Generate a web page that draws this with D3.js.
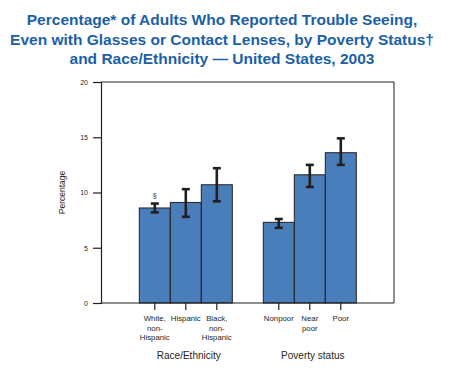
<!DOCTYPE html>
<html>
<head>
<meta charset="utf-8">
<script src="https://cdn.jsdelivr.net/npm/d3@7"></script>
<style>
  html, body { margin: 0; padding: 0; background: #fff; }
  svg { display: block; font-family: "Liberation Sans", Arial, Helvetica, sans-serif; }
</style>
</head>
<body>
<svg id="chart" width="458" height="368"></svg>
<script>
// ---- Data ----
const categories = ["White, non-Hispanic", "Hispanic", "Black, non-Hispanic", "Nonpoor", "Near poor", "Poor"];
const categoryLabels = [["White,", "non-", "Hispanic"], ["Hispanic"], ["Black,", "non-", "Hispanic"], ["Nonpoor"], ["Near", "poor"], ["Poor"]];
const groups = ["Race/Ethnicity", "Poverty status"];
const categoryGroup = [0, 0, 0, 1, 1, 1];
const values = [8.6, 9.1, 10.7, 7.3, 11.6, 13.6];
const ciLower = [8.2, 7.8, 9.2, 6.8, 10.5, 12.5];
const ciUpper = [9.0, 10.3, 12.2, 7.6, 12.5, 14.9];
const yTicks = [0, 5, 10, 15, 20];
const footnoteMarks = ["§", "", "", "", "", ""];
const titleLines = [
  "Percentage* of Adults Who Reported Trouble Seeing,",
  "Even with Glasses or Contact Lenses, by Poverty Status\u2020",
  "and Race/Ethnicity \u2014 United States, 2003"
];

// ---- Layout ----
const svg = d3.select("#chart");
const frame = { left: 101, right: 394, top: 82, bottom: 303 };
const titleColor = "#1b5fa9";
const barColor = "#4a7ebb";
const ink = "#231f20";

// title
svg.append("g").selectAll("text").data(titleLines).join("text")
  .attr("x", 222).attr("y", (d, i) => 25 + i * 19.5)
  .attr("text-anchor", "middle")
  .attr("font-size", 15.5).attr("font-weight", "bold")
  .attr("fill", titleColor)
  .text(d => d);

// scales
const slots = [categories[0], categories[1], categories[2], "__gap__", categories[3], categories[4], categories[5]];
const x = d3.scaleBand().domain(slots).range([139.3, 356.3]).padding(0);
const y = d3.scaleLinear().domain([0, 20]).range([frame.bottom, frame.top]);

// frame (top and right)
svg.append("path")
  .attr("d", `M${frame.left},${frame.top}H${frame.right}V${frame.bottom}`)
  .attr("fill", "none").attr("stroke", ink).attr("stroke-width", 1);

// y axis
const yAxis = svg.append("g").attr("transform", `translate(${frame.left},0)`)
  .call(d3.axisLeft(y).tickValues(yTicks).tickSize(8).tickPadding(5));
yAxis.select(".domain").attr("stroke", ink).attr("stroke-width", 1.2);
yAxis.selectAll(".tick line").attr("stroke", ink).attr("stroke-width", 1.2);
yAxis.selectAll(".tick text").attr("font-size", 7).attr("fill", ink)
  .attr("font-family", "'Liberation Sans', Arial, sans-serif");

// y label
svg.append("text")
  .attr("transform", `translate(65,${(frame.top + frame.bottom) / 2}) rotate(-90)`)
  .attr("text-anchor", "middle").attr("font-size", 8.5).attr("fill", ink)
  .text("Percentage");

// bars
svg.append("g").selectAll("rect").data(categories).join("rect")
  .attr("x", d => x(d)).attr("width", x.bandwidth())
  .attr("y", (d, i) => y(values[i]))
  .attr("height", (d, i) => y(0) - y(values[i]))
  .attr("fill", barColor).attr("stroke", ink).attr("stroke-width", 1);

// x axis baseline
svg.append("line")
  .attr("x1", frame.left).attr("x2", frame.right)
  .attr("y1", frame.bottom).attr("y2", frame.bottom)
  .attr("stroke", ink).attr("stroke-width", 1.2);

// x ticks
const cx = d => x(d) + x.bandwidth() / 2;
svg.append("g").selectAll("line").data(categories).join("line")
  .attr("x1", cx).attr("x2", cx)
  .attr("y1", frame.bottom).attr("y2", frame.bottom + 7)
  .attr("stroke", ink).attr("stroke-width", 1.2);

// error bars
const eb = svg.append("g").attr("stroke", ink).attr("stroke-width", 2.6).attr("fill", "none");
categories.forEach((c, i) => {
  const xc = cx(c);
  eb.append("line").attr("x1", xc).attr("x2", xc).attr("y1", y(ciLower[i])).attr("y2", y(ciUpper[i]));
  eb.append("line").attr("x1", xc - 4).attr("x2", xc + 4).attr("y1", y(ciLower[i])).attr("y2", y(ciLower[i]));
  eb.append("line").attr("x1", xc - 4).attr("x2", xc + 4).attr("y1", y(ciUpper[i])).attr("y2", y(ciUpper[i]));
});

// footnote marks
svg.append("g").selectAll("text").data(categories).join("text")
  .attr("x", cx).attr("y", (d, i) => y(ciUpper[i]) - 6)
  .attr("text-anchor", "middle").attr("font-size", 7).attr("fill", ink)
  .text((d, i) => footnoteMarks[i]);

// category labels
categories.forEach((c, i) => {
  const t = svg.append("text").attr("text-anchor", "middle")
    .attr("font-size", 7.8).attr("fill", ink);
  categoryLabels[i].forEach((line, j) => {
    t.append("tspan").attr("x", cx(c)).attr("y", 321 + j * 9.6).text(line);
  });
});

// group labels
groups.forEach((g, gi) => {
  const members = categories.filter((c, i) => categoryGroup[i] === gi);
  const left = x(members[0]);
  const right = x(members[members.length - 1]) + x.bandwidth();
  svg.append("text")
    .attr("x", (left + right) / 2 + 3).attr("y", 359)
    .attr("text-anchor", "middle").attr("font-size", 10).attr("fill", ink)
    .text(g);
});
</script>
</body>
</html>
